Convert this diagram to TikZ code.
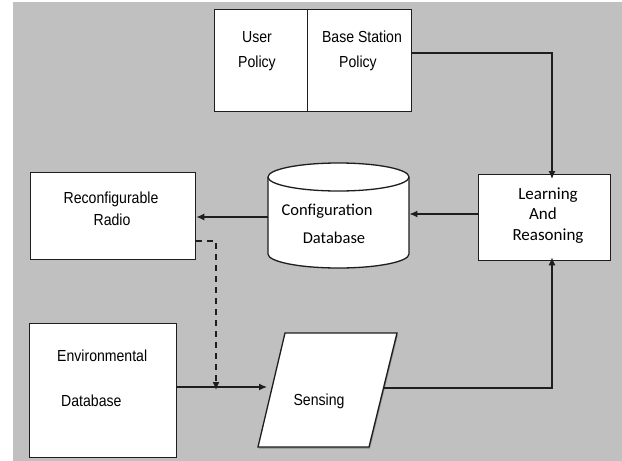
\documentclass[tikz,border=0pt]{standalone}
\usepackage{fontspec}
\setmainfont{Liberation Sans}
\newfontfamily\arialn[FakeStretch=0.88]{Liberation Sans}
\newfontfamily\calfont{Carlito}
\usetikzlibrary{arrows.meta,calc}
\definecolor{bg}{RGB}{192,192,192}
\definecolor{ln}{RGB}{30,30,30}
\begin{document}
\begin{tikzpicture}[x=1pt,y=-1pt,
  box/.style={draw=ln,fill=white,line width=1.3pt,inner sep=0pt,anchor=north west},
  conn/.style={draw=ln,line width=1.3pt,-{Latex[length=8pt,width=7pt]}},
  dconn/.style={conn,dash pattern=on 6pt off 5pt},
  lbl/.style={inner sep=0pt,anchor=base,font=\arialn\fontsize{16}{18}\selectfont},
  llbl/.style={lbl,anchor=base west},
  clbl/.style={inner sep=0pt,anchor=base,font=\calfont\fontsize{17}{19}\selectfont},
  cfgl/.style={inner sep=0pt,anchor=base,font=\calfont\fontsize{16.5}{19}\selectfont}]
\useasboundingbox (0,0) rectangle (622,461);
\fill[bg] (13,2) rectangle (622,461);

% boxes
\node[box,minimum width=93,minimum height=102] (up) at (214,9) {};
\node[box,minimum width=104,minimum height=102] (bp) at (307,9) {};
\node[box,minimum width=132,minimum height=86] (lr) at (478,174) {};
\node[box,minimum width=165,minimum height=87] (rr) at (30,172) {};
\node[box,minimum width=147,minimum height=134] (ed) at (29,323) {};

% cylinder
\path[draw=ln,fill=white,line width=1.3pt]
  (268,177) -- (268,254) arc[start angle=180,end angle=360,x radius=70.5,y radius=-14]
  -- (409,177) arc[start angle=0,end angle=-180,x radius=70.5,y radius=14] -- cycle;
\draw[ln,line width=1.3pt] (268,177) arc[start angle=180,end angle=360,x radius=70.5,y radius=-14];
\node[inner sep=0pt,minimum width=141,minimum height=105,anchor=north west] (cfg) at (268,163) {};

% sensing parallelogram
\coordinate (s1) at (285,333);
\coordinate (s2) at (397,333);
\coordinate (s3) at (369,447);
\coordinate (s4) at (258,447);
\fill[black!45] ($(s1)+(1,1.5)$) -- ($(s2)+(1,1.5)$) -- ($(s3)+(1,1.5)$) -- ($(s4)+(1,1.5)$) -- cycle;
\path[draw=ln,fill=white,line width=1.3pt] (s1) -- (s2) -- (s3) -- (s4) -- cycle;
\coordinate (sin) at (272,387);
\coordinate (sout) at (383.5,388);

% labels
\node[lbl] (t1) at (257,42) {User};
\node[lbl] (t2) at (257,67) {Policy};
\node[lbl] (t3) at (362,42) {Base Station};
\node[lbl] (t4) at (358,67) {Policy};
\node[lbl] (t5) at (111,203) {Reconfigurable};
\node[lbl] (t6) at (112,225) {Radio};
\node[llbl] (t7) at (57,361) {Environmental};
\node[llbl] (t8) at (61,406) {Database};
\node[lbl] (t9) at (319,405) {Sensing};
\node[clbl] (t10) at (548,199) {Learning};
\node[clbl] (t11) at (543,219) {And};
\node[clbl] (t12) at (548,240) {Reasoning};
\node[cfgl] (t13) at (327,215) {Configuration};
\node[cfgl] (t14) at (334,243) {Database};

% connectors
\coordinate (pc) at (552,53);
\coordinate (dc) at (216,241);
\draw[conn] (bp.east |- pc) -- (pc) -- ([yshift=-5pt]lr.north -| pc);
\draw[conn] (lr.west |- 0,214) -- (cfg.east |- 0,214);
\draw[conn] (cfg.west |- 0,217) -- (rr.east |- 0,217);
\draw[conn] (sout) -| ([yshift=4pt]lr.south -| pc);
\draw[conn] (ed.east |- sin) -- ([xshift=-5pt]sin);
\draw[dconn] (rr.east |- dc) -- (dc) -- ([yshift=-3pt]dc |- sin);
\end{tikzpicture}
\end{document}
